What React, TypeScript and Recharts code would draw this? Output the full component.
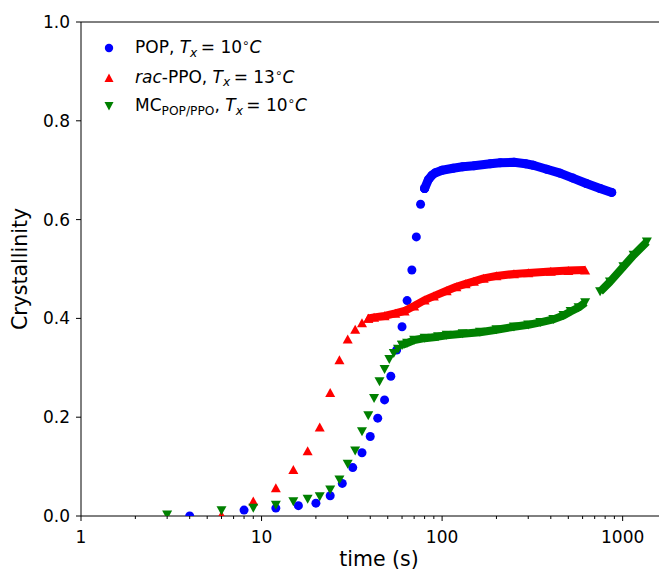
import React from 'react';
import { ScatterChart, Scatter, XAxis, YAxis, ReferenceLine } from 'recharts';

// POP, Tx = 10°C
const popTime = [4, 8, 12, 16, 20, 24, 28, 32, 36, 40, 44, 48, 52, 56, 60, 64, 68, 72, 76, 80];
const popValue = [0.0, 0.012, 0.016, 0.021, 0.026, 0.041, 0.066, 0.098, 0.128, 0.161, 0.198, 0.235, 0.283, 0.336, 0.383, 0.436, 0.498, 0.565, 0.631, 0.663];
const popDenseTime = [80, 84, 88, 92, 100, 115, 130, 150, 185, 210, 250, 290, 320, 380, 450, 530, 630, 750, 870];
const popDenseValue = [0.663, 0.681, 0.69, 0.695, 0.7, 0.704, 0.707, 0.709, 0.713, 0.715, 0.716, 0.713, 0.71, 0.702, 0.694, 0.684, 0.673, 0.663, 0.655];

// rac-PPO, Tx = 13°C
const ppoTime = [3, 6, 9, 12, 15, 18, 21, 24, 27, 30, 33, 36, 39];
const ppoValue = [0.0, 0.002, 0.03, 0.057, 0.094, 0.132, 0.18, 0.25, 0.316, 0.358, 0.378, 0.391, 0.4];
const ppoDenseTime = [39, 42, 48, 55, 62, 70, 80, 90, 106, 120, 135, 150, 170, 200, 250, 300, 400, 500, 620];
const ppoDenseValue = [0.4, 0.402, 0.405, 0.41, 0.415, 0.425, 0.437, 0.445, 0.456, 0.464, 0.47, 0.475, 0.481, 0.486, 0.49, 0.492, 0.495, 0.497, 0.498];

// MC POP/PPO, Tx = 10°C
const mcTime = [3, 6, 9, 12, 15, 18, 21, 24, 27, 30, 33, 36, 39, 42, 45, 48, 51, 54, 57, 60];
const mcValue = [0.002, 0.011, 0.016, 0.022, 0.029, 0.034, 0.039, 0.053, 0.073, 0.105, 0.132, 0.171, 0.203, 0.238, 0.272, 0.297, 0.317, 0.329, 0.338, 0.346];
const mcDenseTime = [60, 64, 70, 80, 95, 106, 130, 162, 200, 250, 300, 350, 413, 470, 515, 570, 620];
const mcDenseValue = [0.346, 0.35, 0.356, 0.36, 0.363, 0.366, 0.369, 0.372, 0.377, 0.383, 0.387, 0.392, 0.398, 0.406, 0.414, 0.422, 0.432];
const mcLateTime = [750, 850, 1010, 1150, 1362];
const mcLateValue = [0.454, 0.474, 0.505, 0.528, 0.555];

const xMajorTicks = [1, 10, 100, 1000];
const xMinorTicks = [2, 3, 4, 5, 6, 7, 8, 9, 20, 30, 40, 50, 60, 70, 80, 90, 200, 300, 400, 500, 600, 700, 800, 900];
const yTicks = [0, 0.2, 0.4, 0.6, 0.8, 1.0];

const zip = (xs: number[], ys: number[]) => xs.map((x, i) => ({ x, y: ys[i] }));

const BLUE = '#0000ff';
const RED = '#ff0000';
const GREEN = '#008000';
const FONT = 'DejaVu Sans, sans-serif';

const CircleShape = (p: any) =>
  p.cx == null ? null : <circle cx={p.cx} cy={p.cy} r={4.5} fill={BLUE} />;
const UpShape = (p: any) =>
  p.cx == null ? null : (
    <polygon points={`${p.cx},${p.cy - 4.6} ${p.cx - 5},${p.cy + 4.4} ${p.cx + 5},${p.cy + 4.4}`} fill={RED} />
  );
const DownShape = (p: any) =>
  p.cx == null ? null : (
    <polygon points={`${p.cx},${p.cy + 4.6} ${p.cx - 5},${p.cy - 4.4} ${p.cx + 5},${p.cy - 4.4}`} fill={GREEN} />
  );

const XTick = (props: any) => {
  const { x, y, payload } = props;
  const v = payload.value;
  const major = xMajorTicks.includes(v);
  return (
    <g>
      <line x1={x} y1={y} x2={x} y2={y + (major ? 5 : 3)} stroke="#000" strokeWidth={1} />
      {major && (
        <text x={x} y={y + 27} textAnchor="middle" fontSize={17} fontFamily={FONT} fill="#000">
          {String(v)}
        </text>
      )}
    </g>
  );
};

const XLabel = (props: any) => {
  const vb = props.viewBox || { x: 73, y: 508, width: 596, height: 55 };
  return (
    <text x={vb.x + vb.width / 2} y={vb.y + 50} textAnchor="middle" fontSize={20.5} fontFamily={FONT} fill="#000">
      time (s)
    </text>
  );
};

const YLabel = (props: any) => {
  const vb = props.viewBox || { x: 13, y: 14, width: 60, height: 494 };
  const cx = vb.x + 6;
  const cy = vb.y + vb.height / 2;
  return (
    <text x={cx} y={cy} transform={`rotate(-90, ${cx}, ${cy})`} textAnchor="middle" fontSize={20.5} fontFamily={FONT} fill="#000">
      Crystallinity
    </text>
  );
};

const sub: React.CSSProperties = { fontSize: '0.72em', position: 'relative', top: '0.3em' };
const sup: React.CSSProperties = { fontSize: '0.7em', position: 'relative', top: '-0.5em' };

const Tx = ({ val }: { val: string }) => (
  <>
    <i>T</i>
    <span style={sub}><i>x</i></span>
    {'\u2009= '}
    {val}
    <span style={sup}>{'\u2218'}</span>
    <i>C</i>
  </>
);

const legendRows = [
  {
    y: 40,
    marker: <circle cx={6} cy={6} r={4.2} fill={BLUE} />,
    label: (
      <>
        POP, <Tx val="10" />
      </>
    ),
  },
  {
    y: 69.5,
    marker: <polygon points="6,1.5 1.5,10 10.5,10" fill={RED} />,
    label: (
      <>
        <i>rac</i>-PPO, <Tx val="13" />
      </>
    ),
  },
  {
    y: 98,
    marker: <polygon points="6,10.5 1.5,2 10.5,2" fill={GREEN} />,
    label: (
      <>
        MC<span style={sub}>POP/PPO</span>, <Tx val="10" />
      </>
    ),
  },
];

export default function App() {
  return (
    <div style={{ position: 'relative', width: 659, height: 563, overflow: 'hidden', background: '#fff' }}>
      <ScatterChart width={669} height={563} margin={{ top: 14, right: 0, bottom: 0, left: 13 }}>
        <XAxis
          type="number"
          dataKey="x"
          scale="log"
          domain={[1, 2000]}
          allowDataOverflow
          ticks={[...xMajorTicks, ...xMinorTicks].sort((a, b) => a - b)}
          interval={0}
          tickLine={false}
          tickSize={0}
          tickMargin={0}
          tick={<XTick />}
          axisLine={{ stroke: '#000', strokeWidth: 1 }}
          height={55}
          label={<XLabel />}
        />
        <YAxis
          type="number"
          dataKey="y"
          domain={[0, 1]}
          allowDataOverflow
          ticks={yTicks}
          interval={0}
          tickFormatter={(v: number) => v.toFixed(1)}
          tick={{ fill: '#000', fontSize: 17, fontFamily: FONT }}
          tickSize={5}
          tickMargin={6}
          tickLine={{ stroke: '#000', strokeWidth: 1 }}
          axisLine={{ stroke: '#000', strokeWidth: 1 }}
          width={60}
          label={<YLabel />}
        />
        <ReferenceLine y={1} stroke="#000" strokeWidth={1} />
        <Scatter
          data={zip(popDenseTime, popDenseValue)}
          fill={BLUE}
          line={{ stroke: BLUE, strokeWidth: 9, strokeLinecap: 'round', strokeLinejoin: 'round' }}
          lineType="joint"
          shape={CircleShape}
          isAnimationActive={false}
        />
        <Scatter data={zip(popTime, popValue)} fill={BLUE} shape={CircleShape} isAnimationActive={false} />
        <Scatter
          data={zip(ppoDenseTime, ppoDenseValue)}
          fill={RED}
          line={{ stroke: RED, strokeWidth: 8, strokeLinejoin: 'round' }}
          lineType="joint"
          shape={UpShape}
          isAnimationActive={false}
        />
        <Scatter data={zip(ppoTime, ppoValue)} fill={RED} shape={UpShape} isAnimationActive={false} />
        <Scatter
          data={zip(mcDenseTime, mcDenseValue)}
          fill={GREEN}
          line={{ stroke: GREEN, strokeWidth: 8, strokeLinejoin: 'round' }}
          lineType="joint"
          shape={DownShape}
          isAnimationActive={false}
        />
        <Scatter
          data={zip(mcLateTime, mcLateValue)}
          fill={GREEN}
          line={{ stroke: GREEN, strokeWidth: 8, strokeLinejoin: 'round' }}
          lineType="joint"
          shape={DownShape}
          isAnimationActive={false}
        />
        <Scatter data={zip(mcTime, mcValue)} fill={GREEN} shape={DownShape} isAnimationActive={false} />
      </ScatterChart>
      {legendRows.map((r, i) => (
        <div
          key={i}
          style={{
            position: 'absolute',
            left: 95,
            top: r.y - 12,
            height: 24,
            display: 'flex',
            alignItems: 'center',
            fontFamily: FONT,
            fontSize: 17,
            lineHeight: '24px',
            color: '#000',
            whiteSpace: 'nowrap',
          }}
        >
          <svg width={12} height={12} style={{ marginRight: 20 }}>
            {r.marker}
          </svg>
          <span>{r.label}</span>
        </div>
      ))}
    </div>
  );
}
